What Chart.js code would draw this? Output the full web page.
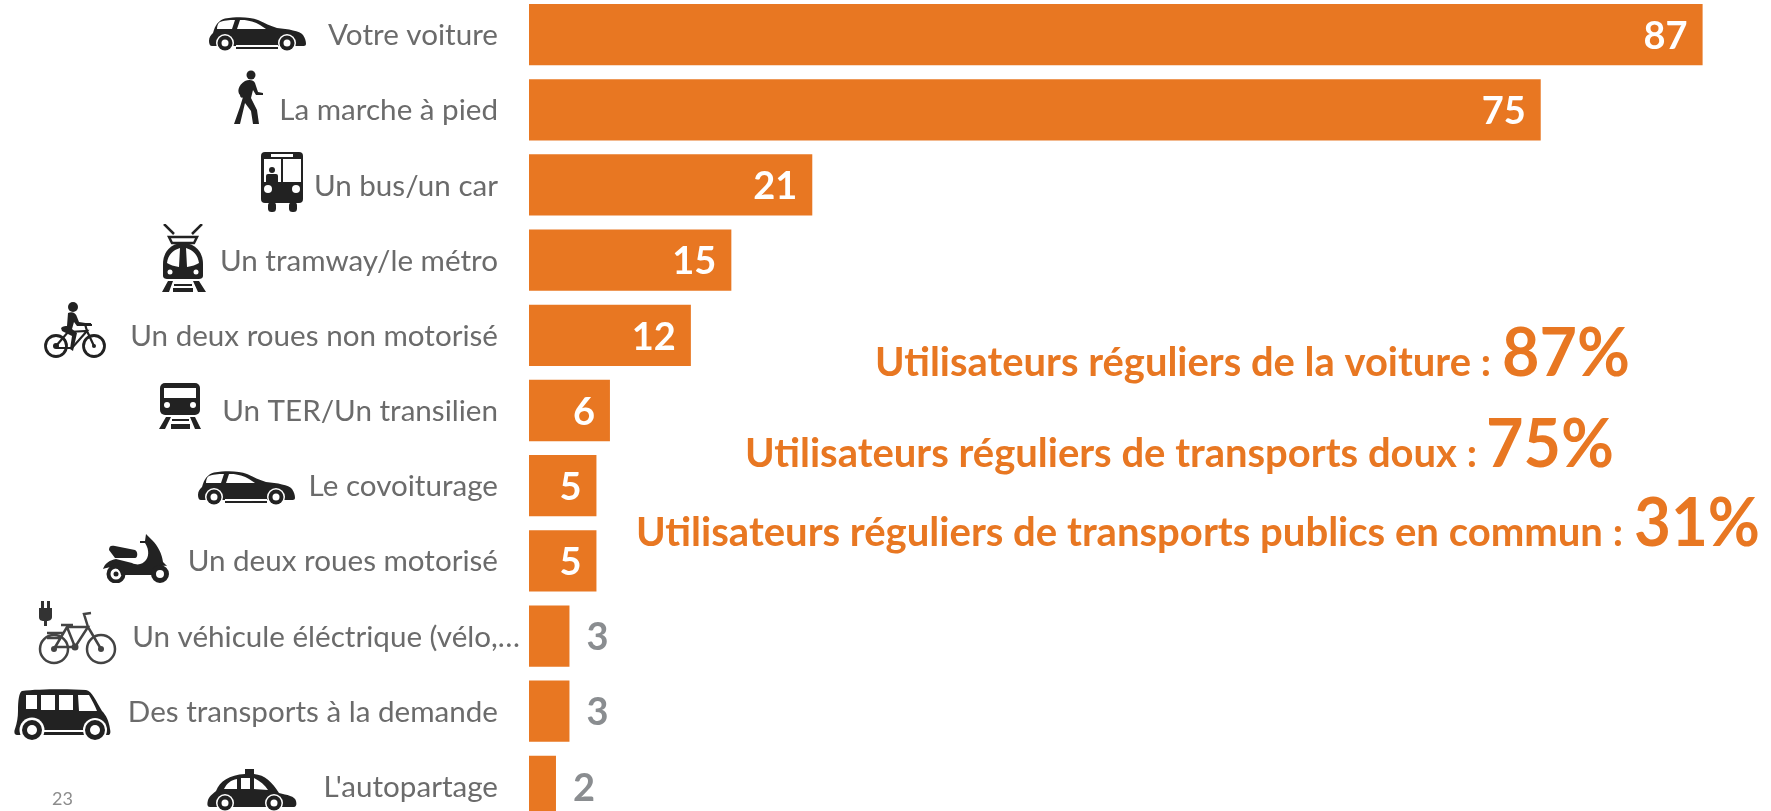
<!DOCTYPE html>
<html lang="fr"><head><meta charset="utf-8">
<style>
html,body{margin:0;padding:0;background:#fff;width:1771px;height:811px;overflow:hidden}
canvas{position:absolute;left:0;top:-3px}
svg{position:absolute;display:block}
</style>
<script src="https://cdn.jsdelivr.net/npm/chart.js@4"></script>
</head><body>
<canvas id="c" width="1771" height="827"></canvas>
<svg width="0" height="0" style="position:absolute">
<defs>
<g id="car"><path fill="#222" d="M1 24C1 20 3 18 5 16C7 8 11 3 17 1.500C30-.5 42 0 50 3C57 6 62 9 69 11C80 12 92 14 95 18C97 21 98 24 98 27C98 29 96 29 94 29H4C2 29 1 27 1 24Z"/>
<path fill="#fff" d="M12 5C18 3 24 3 27 3L24 12H9C9 9 10 6 12 5ZM32 3C40 2.500 47 5 52 8L58 12H29Z"/>
<rect x="28" y="28" width="42" height="1.500" fill="#fff"/><rect x="28" y="30" width="42" height="2" fill="#222"/>
<circle cx="17" cy="26" r="9" fill="#fff"/><circle cx="17" cy="26" r="7.500" fill="#222"/><circle cx="17" cy="26" r="3.500" fill="#fff"/>
<circle cx="79" cy="26" r="9" fill="#fff"/><circle cx="79" cy="26" r="7.500" fill="#222"/><circle cx="79" cy="26" r="3.500" fill="#fff"/></g>
</defs></svg>

<!-- Icons: decorative pictograms beside the category labels -->
<svg style="left:208px;top:17px" width="98" height="35" viewBox="0 0 98 35"><use href="#car"/></svg>
<svg style="left:234px;top:70px" width="30" height="55" viewBox="0 0 30 55"><circle cx="17" cy="5" r="4.500" fill="#222"/><path fill="#222" d="M11 11C15 9 20 10 21 13L24 22L29 23V25L22 25L19 20L17 28L23 40L25 54H19L17 41L11 33L6 54H0L6 37L9 27C8 29 6 27 6 25C3 22 4 15 11 11Z"/></svg>
<svg style="left:259px;top:152px" width="46" height="61" viewBox="0 0 46 61"><rect x="2" y="0" width="42" height="51" rx="4" fill="#222"/><rect x="9" y="50" width="8" height="10" rx="3.500" fill="#222"/><rect x="30" y="50" width="8" height="10" rx="3.500" fill="#222"/><path fill="#fff" d="M5 7H22V30H5ZM24 7H42V30H24ZM12 2H34V5H12Z"/><circle cx="13" cy="18" r="3" fill="#222"/><path fill="#222" d="M7 30V24Q7 22 9 22H17Q19 22 19 24V30Z"/><circle cx="9" cy="37" r="4" fill="#fff"/><circle cx="37" cy="37" r="4" fill="#fff"/></svg>
<svg style="left:161px;top:224px" width="46" height="68" viewBox="0 0 46 68"><path stroke="#222" stroke-width="2.500" fill="none" d="M3 0L13 10M41 0L31 10M8 13H36L33 19H11Z"/><path fill="#222" d="M22 19C34 19 42 28 42 40V52C42 54 40 55 38 55H6C4 55 2 54 2 52V40C2 28 10 19 22 19Z"/><path fill="#fff" d="M19 24L18 43C13 42 9 41 6 39C7 31 12 26 19 24ZM25 24L26 43C31 42 35 41 38 39C37 31 32 26 25 24Z"/><circle cx="9" cy="48" r="2.500" fill="#fff"/><circle cx="35" cy="48" r="2.500" fill="#fff"/><path fill="#222" d="M7 57H12L8 68H1ZM32 57H38L45 68H37ZM13 60H31V62H13ZM12 64H32V68H12Z"/></svg>
<svg style="left:44px;top:302px" width="63" height="58" viewBox="0 0 63 58"><circle cx="29" cy="5" r="5" fill="#222"/><path fill="#222" d="M24 11C28 9 32 11 33 15L35 20L48 22V24L33 24L30 20L28 27L33 31L29 49L26 47L28 34L18 29L17 26C19 24 22 24 23 24Z"/><g fill="none" stroke="#222"><circle cx="12" cy="44" r="10.500" stroke-width="2.800"/><circle cx="50" cy="44" r="10.500" stroke-width="2.800"/><path stroke-width="2.200" d="M12 44L24 30L43 29L28 46H12M43 29L50 44M43 29L41 22H47"/></g><circle cx="12" cy="44" r="3" fill="#222"/><circle cx="50" cy="44" r="2" fill="#222"/></svg>
<svg style="left:159px;top:383px" width="43" height="47" viewBox="0 0 43 47"><rect x="1" y="0" width="40" height="32" rx="5" fill="#222"/><rect x="5" y="5" width="32" height="10" fill="#fff"/><circle cx="8" cy="22" r="3" fill="#fff"/><circle cx="34" cy="22" r="3" fill="#fff"/><path fill="#222" d="M7 34H12L6 46H0ZM31 34H36L42 46H36ZM13 36H30V38H13ZM12 41H31V46H12Z"/></svg>
<svg style="left:197px;top:471px" width="98" height="35" viewBox="0 0 98 35"><use href="#car"/></svg>
<svg style="left:102px;top:534px" width="68" height="49" viewBox="0 0 68 49"><path fill="#222" d="M7 16C7 12 9 11 13 12L33 16C36 17 36 24 33 24L13 24ZM44 0L50 6C56 12 60 20 61 28L65 32C56 31 50 35 50 41H19C18 34 11 31 1 35C3 29 8 26 14 25L30 29C36 32 41 30 44 26C48 21 46 13 43 9H38V7H43Z"/><circle cx="14" cy="40" r="7.500" fill="none" stroke="#222" stroke-width="4"/><circle cx="14" cy="40" r="2.500" fill="#222"/><circle cx="58" cy="40" r="6.500" fill="none" stroke="#222" stroke-width="5"/></svg>
<svg style="left:38px;top:601px" width="80" height="64" viewBox="0 0 80 64"><path fill="#333" d="M3 0H6V7H9V0H12V7H14V16C14 19 11 20 9 20V25H6V20C3 20 1 19 1 16V7H3Z"/><g fill="none" stroke="#444" stroke-width="2.500"><circle cx="16" cy="48" r="14"/><circle cx="63" cy="48" r="14"/><path d="M16 48L29 26L50 26L37 46H16M29 26L37 46M50 26L63 48M50 26L46 13L53 12M23 24H35M9 32H25M9 37H22"/></g><circle cx="37" cy="46" r="3.500" fill="#444"/><circle cx="16" cy="48" r="3" fill="#444"/><circle cx="63" cy="48" r="3" fill="#444"/></svg>
<svg style="left:14px;top:689px" width="98" height="55" viewBox="0 0 98 55"><path fill="#222" d="M8 2C25 0 55 0 72 1C78 2 82 12 88 22C92 26 95 32 96 40C97 44 96 46 94 46H3C0 46 0 42 1 40C3 34 4 28 4 22C4 12 5 3 8 2Z"/><path fill="#fff" d="M12 6H23V20H12ZM27 6H41V21H27ZM45 6H59V21H45ZM64 6H75C78 11 81 17 83 22L65 22Z"/><rect x="28" y="41" width="42" height="2" fill="#fff"/><rect x="28" y="44" width="42" height="2" fill="#222"/><circle cx="18" cy="41" r="12.500" fill="#fff"/><circle cx="18" cy="41" r="10" fill="#222"/><circle cx="18" cy="41" r="5" fill="#fff"/><circle cx="81" cy="41" r="12" fill="#fff"/><circle cx="81" cy="41" r="10" fill="#222"/><circle cx="81" cy="41" r="5" fill="#fff"/></svg>
<svg style="left:207px;top:769px" width="90" height="42" viewBox="0 0 90 42"><path fill="#222" d="M38 0H47V5C58 6 65 13 72 24C80 26 88 27 89 32C90 36 89 38 86 38H3C0 38 0 35 1 31C3 26 7 24 9 22C13 12 22 6 38 5Z"/><path fill="#fff" d="M17 20C20 14 24 11 30 10V20ZM34 9H43V20H34ZM47 9C53 12 58 16 61 21L47 20Z"/><circle cx="18" cy="34" r="9" fill="#fff"/><circle cx="18" cy="34" r="7.500" fill="#222"/><circle cx="18" cy="34" r="3.500" fill="#fff"/><circle cx="67" cy="34" r="9" fill="#fff"/><circle cx="67" cy="34" r="7.500" fill="#222"/><circle cx="67" cy="34" r="3.500" fill="#fff"/></svg>

<script>
const categories = ["Votre voiture","La marche à pied","Un bus/un car","Un tramway/le métro","Un deux roues non motorisé","Un TER/Un transilien","Le covoiturage","Un deux roues motorisé","Un véhicule éléctrique (vélo,…","Des transports à la demande","L'autopartage"];
const values = [87,75,21,15,12,6,5,5,3,3,2];
const summaryLabels = ["Utilisateurs réguliers de la voiture :","Utilisateurs réguliers de transports doux :","Utilisateurs réguliers de transports publics en commun :"];
const summaryValues = ["87%","75%","31%"];
const pageNumber = "23";

const ORANGE = "#E87722";
const FONT = "Lato, sans-serif";
const SUMMARY_POS = [{x:875,w:616,px:1502,pw:128,y:375},{x:745,w:732,px:1486,pw:128,y:466},{x:636,w:987,px:1634,pw:126,y:545}];

function fitText(ctx, text, x, y, w){
  const m = ctx.measureText(text).width;
  ctx.save(); ctx.translate(x, y); ctx.scale(w/m, 1);
  ctx.textAlign = "left"; ctx.textBaseline = "alphabetic";
  ctx.fillText(text, 0, 0); ctx.restore();
}

const overlay = {
  id:"overlay",
  afterUpdate(chart){
    // the truncated label overflows towards the bars in the reference
    const items = chart.scales.y.getLabelItems();
    items.forEach(it => { it.options.translation[1] += 1; });
    items[8].options.translation[0] += 22;
  },
  afterDatasetsDraw(chart){
    const ctx = chart.ctx, x = chart.scales.x, meta = chart.getDatasetMeta(0);
    ctx.save();
    ctx.font = "bold 38px " + FONT; ctx.textBaseline = "middle";
    values.forEach((v,i)=>{
      const end = x.getPixelForValue(v), y = meta.data[i].y + 2;
      if (v >= 5){ ctx.fillStyle="#fff"; ctx.textAlign="right"; ctx.fillText(String(v), end-15, y); }
      else { ctx.fillStyle="#8A8D90"; ctx.textAlign="left"; ctx.fillText(String(v), end+17, y); }
    });
    ctx.fillStyle = ORANGE;
    summaryLabels.forEach((t,i)=>{
      const p = SUMMARY_POS[i];
      ctx.font = "bold 40px " + FONT; fitText(ctx, t, p.x, p.y+4, p.w);
      ctx.font = "bold 66px " + FONT; fitText(ctx, summaryValues[i], p.px, p.y+4, p.pw);
    });
    ctx.fillStyle="#8C8C8C"; ctx.font="18px "+FONT; ctx.textAlign="left"; ctx.textBaseline="alphabetic";
    ctx.fillText(pageNumber, 52, 808);
    ctx.restore();
  }
};

new Chart(document.getElementById("c"),{
  type:"bar",
  data:{labels:categories,datasets:[{data:values,backgroundColor:ORANGE,borderWidth:0,barPercentage:0.815,categoryPercentage:1}]},
  plugins:[overlay],
  options:{
    indexAxis:"y",responsive:false,animation:false,
    layout:{padding:0},
    plugins:{legend:{display:false},tooltip:{enabled:false},title:{display:false}},
    scales:{
      x:{display:false,min:0,max:92.07,grid:{display:false}},
      y:{grid:{display:false,drawTicks:false},border:{display:false},
        afterFit(s){s.width=529;s.paddingTop=0;s.paddingBottom=0;},
        ticks:{color:"#6B6B6B",autoSkip:false,padding:31,font:{family:FONT,size:29.6}}}
    }
  }
});
</script>
</body></html>
